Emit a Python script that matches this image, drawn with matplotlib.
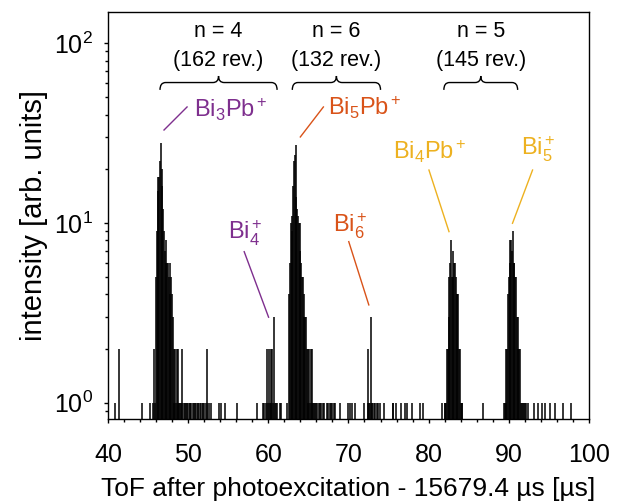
import matplotlib.pyplot as plt
from matplotlib.path import Path
from matplotlib.patches import PathPatch

plt.rcParams['font.family'] = ['Liberation Sans', 'DejaVu Sans']
plt.rcParams['mathtext.fontset'] = 'custom'
plt.rcParams['mathtext.rm'] = 'Liberation Sans'
plt.rcParams['mathtext.it'] = 'Liberation Sans:italic'
plt.rcParams['mathtext.bf'] = 'Liberation Sans:bold'

# ToF bins (us after 15679.4 us) with non-zero counts
noise_tof = [40.9, 41.4, 44.2, 45.3, 45.6,
             48.3, 48.4, 48.5, 48.6, 48.7, 48.8, 48.9, 49.0, 49.1, 49.2, 49.3, 49.5, 49.6, 49.7, 49.9,
             50.0, 50.2, 50.3, 50.4, 50.6, 50.7, 50.9, 51.0, 51.2, 51.3, 51.5, 51.6, 51.8, 51.9, 52.1,
             52.3, 52.4, 52.6, 52.8, 53.9, 54.1, 54.6, 56.1, 58.6,
             65.7, 65.8, 66.0, 66.1, 66.3, 66.5, 66.6, 66.8, 67.0, 67.3, 67.5, 67.7, 67.8, 68.0, 68.2,
             68.3, 68.9, 70.0, 70.2, 70.5, 70.8, 72.0,
             74.4, 75.5, 75.6, 75.9, 76.5, 77.1, 77.3, 77.9, 78.9, 79.3, 86.8,
             93.1, 93.6, 94.1, 94.5, 95.1, 95.7, 96.7, 97.7]
noise_cnt = [1, 2, 1, 1, 1,
             1, 2, 1, 2, 1, 2, 1, 1, 1, 2, 1, 1, 1, 1, 1,
             1, 1, 1, 1, 1, 1, 1, 1, 1, 1, 1, 1, 1, 1, 1,
             2, 1, 1, 1, 1, 1, 1, 1, 1,
             1, 1, 1, 1, 1, 1, 1, 1, 1, 1, 1, 1, 1, 1, 1,
             1, 1, 1, 1, 1, 1, 1,
             1, 1, 1, 1, 1, 1, 1, 1, 1, 1, 1,
             1, 1, 1, 1, 1, 1, 1, 1]

bi3pb_tof = [45.8, 45.9, 46.0, 46.1, 46.2, 46.3, 46.4, 46.5, 46.6, 46.7, 46.8, 46.9, 47.0,
             47.1, 47.2, 47.3, 47.4, 47.5, 47.6, 47.7, 47.8, 47.9, 48.0, 48.1, 48.2]
bi3pb_cnt = [2, 1, 5, 9, 18, 15, 18, 22, 28, 20, 16, 12, 9, 7, 8, 6, 6, 6, 5, 6, 4, 5, 4, 3, 2]

bi4_tof = [59.3, 59.5, 59.7, 59.8, 60.0, 60.1, 60.2, 60.3, 60.4, 60.5, 60.6, 60.7, 60.8,
           61.0, 61.1, 61.5, 61.6]
bi4_cnt = [1, 1, 1, 2, 1, 2, 1, 2, 1, 2, 1, 3, 1, 1, 1, 1, 1]

bi5pb_tof = [62.3, 62.6, 62.7, 62.8, 62.9, 63.0, 63.1, 63.2, 63.3, 63.4, 63.5, 63.6, 63.7,
             63.8, 63.9, 64.0, 64.1, 64.2, 64.3, 64.4, 64.5, 64.6, 64.7, 64.8, 64.9, 65.0,
             65.1, 65.2, 65.3, 65.4, 65.5, 65.6]
bi5pb_cnt = [1, 4, 6, 10, 9, 11, 16, 22, 24, 27, 14, 12, 11, 10, 10, 7, 6, 5, 5, 4, 3, 3, 3,
             2, 2, 1, 2, 1, 2, 1, 2, 1]

bi6_tof = [72.4, 72.5, 72.6, 72.7, 72.8, 72.9, 73.0, 73.2, 73.3, 73.5, 73.7, 73.9]
bi6_cnt = [2, 1, 1, 1, 3, 1, 1, 1, 1, 1, 1, 1]

bi4pb_tof = [81.7, 82.0, 82.1, 82.2, 82.3, 82.4, 82.5, 82.6, 82.7, 82.8, 82.9, 83.0, 83.1,
             83.2, 83.3, 83.4, 83.5, 83.6, 83.7, 83.8, 83.9, 84.0, 84.1, 84.2]
bi4pb_cnt = [1, 1, 1, 1, 2, 2, 3, 5, 6, 8, 5, 7, 5, 6, 6, 5, 4, 4, 4, 2, 2, 1, 1, 1]

bi5_tof = [89.4, 89.5, 89.6, 89.7, 89.8, 89.9, 90.0, 90.1, 90.2, 90.3, 90.4, 90.5, 90.6,
           90.7, 90.8, 90.9, 91.0, 91.1, 91.2, 91.3, 91.4, 91.5, 91.6, 91.8, 91.9, 92.0,
           92.2, 92.4]
bi5_cnt = [1, 1, 1, 2, 2, 4, 5, 6, 8, 8, 7, 9, 6, 6, 5, 5, 3, 3, 2, 2, 2, 1, 1, 1, 1, 1, 1, 1]

# revolution groups
group_lo = [46.5, 63.0, 81.9]
group_hi = [61.1, 74.0, 91.1]
group_n = ['n = 4', 'n = 6', 'n = 5']
group_rev = ['(162 rev.)', '(132 rev.)', '(145 rev.)']

# species labels: text, text position, line start (peak side), line end, colour
purple = '#7E2F8E'
orange = '#D95319'
yellow = '#EDB120'
lab_text = [r'$\mathrm{Bi_3Pb^+}$', r'$\mathrm{Bi_4^+}$', r'$\mathrm{Bi_5Pb^+}$',
            r'$\mathrm{Bi_6^+}$', r'$\mathrm{Bi_4Pb^+}$', r'$\mathrm{Bi_5^+}$']
lab_x = [50.75, 55.0, 67.5, 68.1, 75.6, 91.5]
lab_y = [38.9, 8.1, 39.9, 8.9, 22.6, 23.6]
line_x0 = [47.0, 60.04, 64.0, 72.54, 82.54, 90.46]
line_y0 = [32.9, 2.99, 30.1, 3.5, 8.95, 9.96]
line_x1 = [49.875, 57.0, 66.875, 70.04, 80.04, 92.96]
line_y1 = [44.2, 6.92, 44.2, 7.87, 19.7, 19.7]
lab_col = [purple, purple, orange, orange, yellow, yellow]


def brace(ax, x0, x1, y, r=0.7, hd=0.018, hu=0.016):
    xm = (x0 + x1) / 2
    verts = [(x0, y - hd), (x0, y), (x0 + r, y), (xm - r, y), (xm, y), (xm, y + hu),
             (xm, y), (xm + r, y), (x1 - r, y), (x1, y), (x1, y - hd)]
    codes = [Path.MOVETO, Path.CURVE3, Path.CURVE3, Path.LINETO, Path.CURVE3, Path.CURVE3,
             Path.CURVE3, Path.CURVE3, Path.LINETO, Path.CURVE3, Path.CURVE3]
    p = PathPatch(Path(verts, codes), fill=False, lw=1.0, color='k',
                  transform=ax.get_xaxis_transform(), clip_on=False)
    ax.add_patch(p)


fig = plt.figure(figsize=(6.2, 5.04), dpi=100)
ax = fig.add_axes([0.174, 0.168, 0.776, 0.809])

for t, c in [(noise_tof, noise_cnt), (bi3pb_tof, bi3pb_cnt), (bi4_tof, bi4_cnt),
             (bi5pb_tof, bi5pb_cnt), (bi6_tof, bi6_cnt), (bi4pb_tof, bi4pb_cnt),
             (bi5_tof, bi5_cnt)]:
    ax.vlines(t, 0.5, c, color='k', lw=1.1)

ax.set_yscale('log')
ax.set_xlim(40, 100)
ax.set_ylim(0.808, 150)
ax.set_xticks(range(40, 101, 10))
ax.set_xticks(range(40, 101, 2), minor=True)
ax.tick_params(which='both', direction='out', top=False, right=False, labelsize=18, width=1)
ax.tick_params(which='major', length=3.2)
ax.tick_params(which='minor', length=2)
ax.tick_params(axis='x', which='major', pad=14)
ax.tick_params(axis='y', which='major', pad=7.5)
for s in ax.spines.values():
    s.set_linewidth(1)

ax.set_xlabel('ToF after photoexcitation - 15679.4 µs [µs]', fontsize=19, labelpad=7)
ax.set_ylabel('intensity [arb. units]', fontsize=21, labelpad=4)

for lo, hi, n, rev in zip(group_lo, group_hi, group_n, group_rev):
    brace(ax, lo, hi, 0.826)
    ax.text((lo + hi) / 2, 0.951, n, transform=ax.get_xaxis_transform(),
            ha='center', va='center', fontsize=15.5)
    ax.text((lo + hi) / 2, 0.881, rev, transform=ax.get_xaxis_transform(),
            ha='center', va='center', fontsize=15.5)

for i in range(len(lab_text)):
    ax.plot([line_x0[i], line_x1[i]], [line_y0[i], line_y1[i]], color=lab_col[i], lw=1)
    ax.text(lab_x[i], lab_y[i], lab_text[i], color=lab_col[i], fontsize=17,
            ha='left', va='baseline')

fig.savefig('out.png', dpi=100)
